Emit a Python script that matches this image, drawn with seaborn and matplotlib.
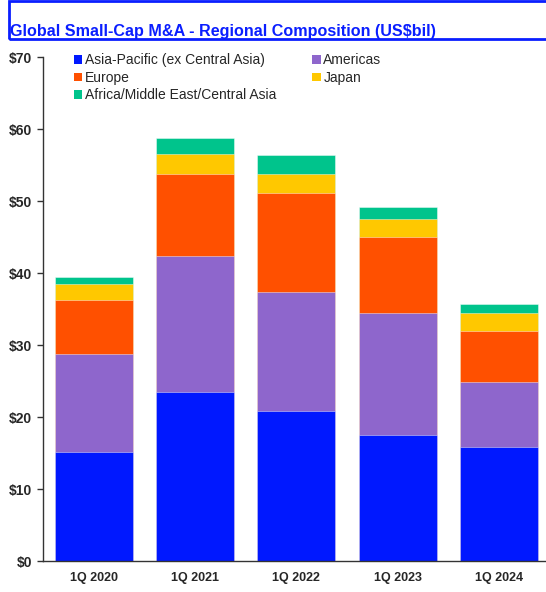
import pandas as pd
import seaborn as sns
import matplotlib.pyplot as plt
from matplotlib.patches import Patch, Rectangle

quarters = ["1Q 2020", "1Q 2021", "1Q 2022", "1Q 2023", "1Q 2024"]
regions = ["Asia-Pacific (ex Central Asia)", "Americas", "Europe", "Japan",
           "Africa/Middle East/Central Asia"]
asia_pac = [15.2, 23.5, 20.9, 17.5, 15.9]
americas = [13.6, 18.8, 16.5, 17.0, 8.9]
europe = [7.4, 11.4, 13.7, 10.5, 7.2]
japan = [2.3, 2.8, 2.7, 2.5, 2.4]
africa_me = [1.0, 2.2, 2.6, 1.7, 1.3]
colors = ["#0018FF", "#8E66CC", "#FF5000", "#FFC800", "#00C48C"]

df = pd.DataFrame({"quarter": quarters, regions[0]: asia_pac, regions[1]: americas,
                   regions[2]: europe, regions[3]: japan, regions[4]: africa_me})
cum = df[regions].cumsum(axis=1)
cum["quarter"] = df["quarter"]

sns.set_style("white")
plt.rcParams["font.family"] = ["Liberation Sans", "DejaVu Sans"]

fig = plt.figure(figsize=(5.46, 5.92), dpi=100)
ax = fig.add_axes([43 / 546, 31 / 592, 503 / 546, 504 / 592])

# draw cumulative totals from the top segment down so each layer shows
for reg, col in zip(regions[::-1], colors[::-1]):
    sns.barplot(data=cum, x="quarter", y=reg, color=col, width=0.77,
                saturation=1, ax=ax, linewidth=0.6, edgecolor="#ffffff80")

ax.set_xlim(-0.5, 4.466)
ax.set_ylim(0, 70)
ax.set_yticks(range(0, 71, 10))
ax.set_yticklabels([f"${v}" for v in range(0, 71, 10)], fontsize=10, fontweight="bold")
ax.set_xticks(range(5))
ax.set_xticklabels(quarters, fontsize=9, fontweight="bold")
ax.set_xticks([-0.5, 0.5, 1.5, 2.5, 3.5], minor=True)
ax.tick_params(axis="x", which="major", length=0, pad=8)
ax.tick_params(axis="x", which="minor", length=5, width=1, color="#333333")
ax.tick_params(axis="y", length=4, width=1, color="#333333", left=True, pad=4)
ax.set_xlabel("")
ax.set_ylabel("")
for s in ["top", "right"]:
    ax.spines[s].set_visible(False)
for s in ["left", "bottom"]:
    ax.spines[s].set_color("#333333")
    ax.spines[s].set_linewidth(1)

order = [0, 2, 4, 1, 3]
handles = [Patch(facecolor=colors[i], edgecolor="none") for i in order]
labels = [regions[i] for i in order]
ax.legend(handles, labels, ncol=2, loc="upper left", bbox_to_anchor=(0.05, 1.018),
          frameon=False, fontsize=10, handlelength=0.6, handleheight=0.6,
          handletextpad=0.2, columnspacing=2.6, labelspacing=0.25, borderaxespad=0)

fig.patches.append(Rectangle((8.5 / 546, 553 / 592), 1.0, 38 / 592, transform=fig.transFigure,
                             fill=False, edgecolor="#0A1EFF", linewidth=2))
fig.text(10 / 546, 556 / 592, "Global Small-Cap M&A - Regional Composition (US$bil)",
         fontsize=11.65, fontweight="bold", color="#0A1EFF", ha="left", va="baseline")

plt.savefig("out.png", dpi=100)
